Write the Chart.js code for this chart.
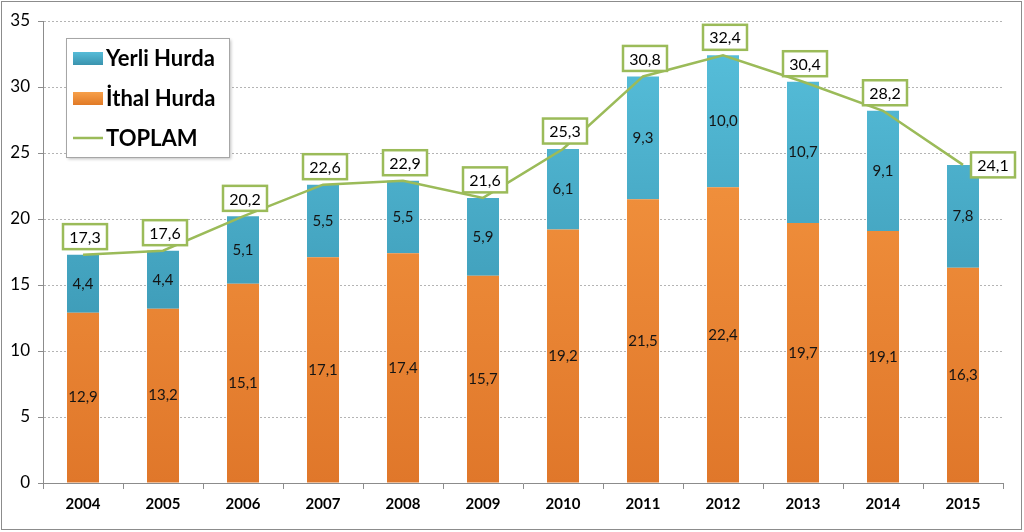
<!DOCTYPE html>
<html>
<head>
<meta charset="utf-8">
<script src="https://cdn.jsdelivr.net/npm/chart.js"></script>
<style>
  html, body { margin: 0; padding: 0; background: #fff; }
  #wrap { position: relative; width: 1024px; height: 532px; }
</style>
</head>
<body>
<div id="wrap"><canvas id="myChart" width="1024" height="532"></canvas></div>
<script>
const years = ['2004', '2005', '2006', '2007', '2008', '2009', '2010', '2011', '2012', '2013', '2014', '2015'];
const ithalHurda = [12.9, 13.2, 15.1, 17.1, 17.4, 15.7, 19.2, 21.5, 22.4, 19.7, 19.1, 16.3];
const yerliHurda = [4.4, 4.4, 5.1, 5.5, 5.5, 5.9, 6.1, 9.3, 10.0, 10.7, 9.1, 7.8];
const toplam = [17.3, 17.6, 20.2, 22.6, 22.9, 21.6, 25.3, 30.8, 32.4, 30.4, 28.2, 24.1];
const yTicks = [0, 5, 10, 15, 20, 25, 30, 35];

const FONT = 'Lato, "Open Sans", sans-serif';
const GREEN = '#9bbb59';

function fmt(v) {
  return v.toFixed(1).replace('.', ',');
}

function vGrad(ctx, top, bottom) {
  const area = ctx.chart.chartArea;
  if (!area) return top;
  const g = ctx.chart.ctx.createLinearGradient(0, area.top, 0, area.bottom);
  g.addColorStop(0, top);
  g.addColorStop(1, bottom);
  return g;
}

// labels inside bars and boxed labels on the line
const labelsPlugin = {
  id: 'labels',
  afterDatasetsDraw(chart) {
    const c = chart.ctx;
    c.save();
    c.textAlign = 'center';
    c.textBaseline = 'middle';
    c.font = '15px ' + FONT;
    c.fillStyle = '#141414';
    [0, 1].forEach((di) => {
      chart.getDatasetMeta(di).data.forEach((bar, i) => {
        const v = chart.data.datasets[di].data[i];
        c.fillText(fmt(v), bar.x, (bar.y + bar.base) / 2);
      });
    });
    const pts = chart.getDatasetMeta(2).data;
    pts.forEach((pt, i) => {
      const v = chart.data.datasets[2].data[i];
      const w = 44, h = 25;
      const last = i === pts.length - 1;
      // last box sits to the right of the line end
      const cx = last ? pt.x + 30 : pt.x + 2;
      const cy = last ? pt.y : pt.y - 18;
      c.fillStyle = '#fff';
      c.fillRect(cx - w / 2, cy - h / 2, w, h);
      c.lineWidth = 2.5;
      c.strokeStyle = GREEN;
      c.strokeRect(cx - w / 2, cy - h / 2, w, h);
      c.fillStyle = '#000';
      c.font = '16px ' + FONT;
      c.fillText(fmt(v), cx, cy + 1);
    });
    c.restore();
  }
};

// legend box inside the plot, top left
const legendBox = {
  id: 'legendBox',
  afterDraw(chart) {
    const c = chart.ctx;
    c.save();
    c.shadowColor = 'rgba(0,0,0,0.25)';
    c.shadowOffsetX = 2;
    c.shadowOffsetY = 2;
    c.shadowBlur = 3;
    c.fillStyle = '#fff';
    c.fillRect(66, 38, 163, 119);
    c.shadowColor = 'transparent';
    c.strokeStyle = '#a6a6a6';
    c.lineWidth = 1;
    c.strokeRect(66.5, 38.5, 163, 119);

    const items = [
      { text: 'Yerli Hurda', type: 'box', top: '#56bcd8', bottom: '#3a93ae' },
      { text: 'İthal Hurda', type: 'box', top: '#f7a04a', bottom: '#e17a26' },
      { text: 'TOPLAM', type: 'line' }
    ];
    c.font = 'bold 22px ' + FONT;
    c.textBaseline = 'middle';
    c.textAlign = 'left';
    items.forEach((it, k) => {
      const y = 58 + k * 40;
      if (it.type === 'box') {
        const g = c.createLinearGradient(0, y - 6, 0, y + 7);
        g.addColorStop(0, it.top);
        g.addColorStop(1, it.bottom);
        c.fillStyle = g;
        c.fillRect(73, y - 6, 30, 13);
      } else {
        c.strokeStyle = GREEN;
        c.lineWidth = 2.5;
        c.beginPath();
        c.moveTo(73, y);
        c.lineTo(103, y);
        c.stroke();
      }
      c.fillStyle = '#000';
      c.fillText(it.text, 106, y + 1);
    });
    c.restore();
  }
};

// thin frame round the whole chart
const frame = {
  id: 'frame',
  beforeDraw(chart) {
    const c = chart.ctx;
    c.save();
    c.strokeStyle = '#8c8c8c';
    c.lineWidth = 1;
    c.strokeRect(1.5, 1.5, 1020, 528);
    c.restore();
  }
};

const data = {
  labels: years,
  datasets: [
    {
      type: 'bar',
      label: 'İthal Hurda',
      data: ithalHurda,
      stack: 'bars',
      backgroundColor: (ctx) => vGrad(ctx, '#f89c45', '#e0772a'),
      barPercentage: 0.4,
      categoryPercentage: 1,
      order: 2
    },
    {
      type: 'bar',
      label: 'Yerli Hurda',
      data: yerliHurda,
      stack: 'bars',
      backgroundColor: (ctx) => vGrad(ctx, '#58c1dd', '#3189a5'),
      barPercentage: 0.4,
      categoryPercentage: 1,
      order: 2
    },
    {
      type: 'line',
      label: 'TOPLAM',
      data: toplam,
      stack: 'total',
      borderColor: GREEN,
      borderWidth: 2.5,
      pointRadius: 0,
      tension: 0,
      fill: false,
      order: 1
    }
  ]
};

const config = {
  type: 'bar',
  data: data,
  options: {
    responsive: false,
    animation: false,
    layout: { padding: { top: 21, right: 21, left: 0, bottom: 0 } },
    plugins: {
      legend: { display: false },
      tooltip: { enabled: false }
    },
    scales: {
      x: {
        stacked: true,
        afterFit: (s) => { s.height = 49; },
        grid: { display: true, drawOnChartArea: false, drawTicks: true, tickLength: 6, color: '#8c8c8c', offset: true },
        border: { display: true, color: '#8c8c8c' },
        ticks: { color: '#000', font: { family: FONT, size: 15, weight: 'bold' }, padding: 6 }
      },
      y: {
        stacked: true,
        min: 0,
        max: 35,
        afterFit: (s) => { s.width = 43; },
        afterBuildTicks: (s) => { s.ticks = yTicks.map((v) => ({ value: v })); },
        grid: { color: '#b4b4b4', tickLength: 5, drawTicks: true, tickColor: '#8c8c8c', tickBorderDash: [] },
        border: { display: true, color: '#8c8c8c', dash: [2, 2] },
        ticks: { color: '#000', font: { family: FONT, size: 17 }, padding: 8 }
      }
    }
  },
  plugins: [frame, labelsPlugin, legendBox]
};

const myChart = new Chart(document.getElementById('myChart'), config);
</script>
</body>
</html>
